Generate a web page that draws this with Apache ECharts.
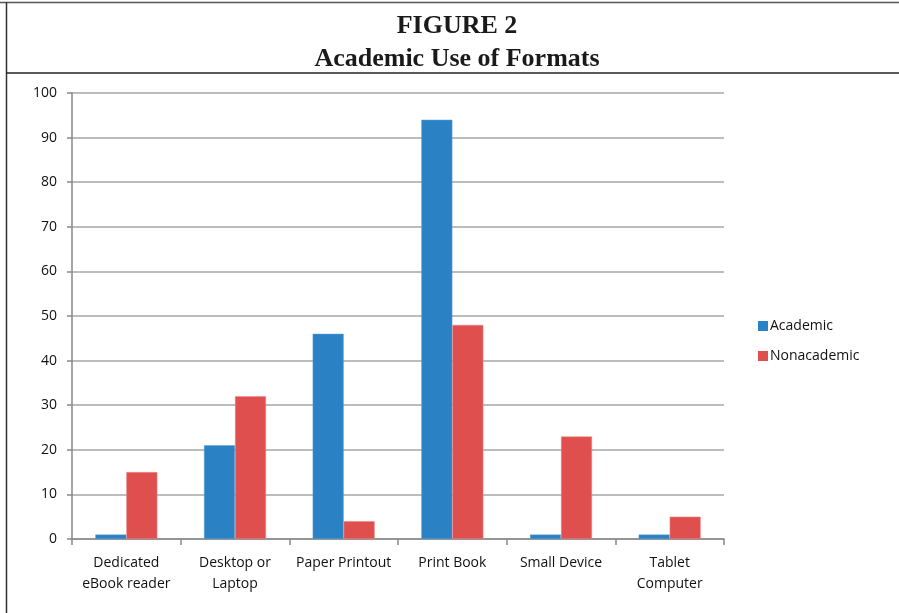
<!DOCTYPE html>
<html>
<head>
<meta charset="utf-8">
<script src="https://cdn.jsdelivr.net/npm/echarts@6/dist/echarts.min.js"></script>
<style>
  html, body { margin: 0; padding: 0; background: #fff; }
  #chart { width: 899px; height: 613px; }
</style>
</head>
<body>
<div id="chart"></div>
<script>
// data
var categories = ['Dedicated\neBook reader', 'Desktop or\nLaptop', 'Paper Printout', 'Print Book', 'Small Device', 'Tablet\nComputer']
var academic = [1, 21, 46, 94, 1, 1]
var nonacademic = [15, 32, 4, 48, 23, 5]

var labelFont = '"Open Sans", "Liberation Sans", sans-serif'

var chart = echarts.init(document.getElementById('chart'), null, { renderer: 'canvas' })

chart.setOption({
  animation: false,
  color: ['#2a82c4', '#de4f4d'],
  title: {
    text: 'FIGURE 2\nAcademic Use of Formats',
    left: 452,
    textAlign: 'center',
    top: 5,
    textStyle: {
      fontFamily: '"Liberation Serif", "Times New Roman", serif',
      fontWeight: 'bold',
      fontSize: 26,
      lineHeight: 33,
      color: '#1a1a1a'
    }
  },
  graphic: [
    { type: 'line', shape: { x1: 0, y1: 2.5, x2: 899, y2: 2.5 }, style: { stroke: '#555', lineWidth: 1.5 } },
    { type: 'line', shape: { x1: 6.5, y1: 2, x2: 6.5, y2: 613 }, style: { stroke: '#333', lineWidth: 1.5 } },
    { type: 'line', shape: { x1: 6, y1: 73, x2: 899, y2: 73 }, style: { stroke: '#222', lineWidth: 1.5 } }
  ],
  legend: {
    orient: 'vertical',
    left: 753,
    top: 314,
    itemWidth: 10,
    itemHeight: 10,
    itemGap: 16,
    icon: 'rect',
    itemStyle: { borderWidth: 0 },
    textStyle: { fontFamily: labelFont, fontSize: 14, color: '#111', padding: [0, 0, 0, -3] },
    data: ['Academic', 'Nonacademic']
  },
  grid: {
    left: 72,
    right: 175,
    top: 93,
    bottom: 74,
    containLabel: false
  },
  xAxis: {
    type: 'category',
    data: categories,
    axisLine: { lineStyle: { color: '#888', width: 1.5 } },
    axisTick: { show: true, length: 6, lineStyle: { color: '#888', width: 1.5 } },
    axisLabel: {
      interval: 0,
      fontFamily: labelFont,
      fontSize: 14,
      color: '#111',
      lineHeight: 21,
      margin: 14
    }
  },
  yAxis: {
    type: 'value',
    min: 0,
    max: 100,
    interval: 10,
    axisLine: { show: true, lineStyle: { color: '#888', width: 1.5 } },
    axisTick: { show: true, length: 5, lineStyle: { color: '#888', width: 1.5 } },
    splitLine: { lineStyle: { color: '#a6a6a6', width: 1.5 } },
    axisLabel: {
      fontFamily: labelFont,
      fontSize: 14,
      color: '#111',
      margin: 15
    }
  },
  series: [
    {
      name: 'Academic',
      type: 'bar',
      data: academic,
      barWidth: 31,
      barGap: '0%',
      itemStyle: { borderColor: '#5aa2d8', borderWidth: 0.5 }
    },
    {
      name: 'Nonacademic',
      type: 'bar',
      data: nonacademic,
      barWidth: 31,
      barGap: '0%',
      itemStyle: { borderColor: '#ee8e8c', borderWidth: 0.5 }
    }
  ]
})
</script>
</body>
</html>
